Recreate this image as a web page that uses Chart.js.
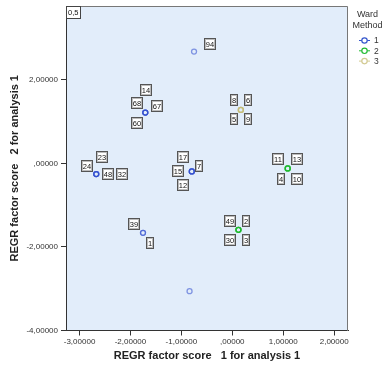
<!DOCTYPE html>
<html>
<head>
<meta charset="utf-8">
<script src="https://cdn.jsdelivr.net/npm/chart.js@4"></script>
<style>
html, body { margin: 0; padding: 0; background: #fff; }
</style>
</head>
<body>
<canvas id="wardChart" width="385" height="367"></canvas>
<script>
// one entry per plotted location (cases that share a spot are listed together)
const wardCluster = [1, 1, 1, 1, 1, 1, 2, 2, 3];
const factor1 = [-0.752, -1.709, -2.672, -0.796, -1.754, -0.840, 1.087, 0.120, 0.167];
const factor2 = [2.678, 1.217, -0.255, -0.190, -1.662, -3.058, -0.118, -1.590, 1.282];
const caseLabels = [
    ['94'],
    ['14', '68', '67', '60'],
    ['23', '24', '48', '32'],
    ['17', '15', '7', '12'],
    ['39', '1'],
    [],
    ['11', '13', '4', '10'],
    ['49', '2', '30', '3'],
    ['8', '6', '5', '9']
];
const clusterNames = ['1', '2', '3'];
const xTickValues = [-3, -2, -1, 0, 1, 2];
const yTickValues = [-4, -2, 0, 2];
const cornerNote = '0,5';
const xTitle = 'REGR factor score   1 for analysis 1';
const yTitle = 'REGR factor score   2 for analysis 1';

// label box placement around each location (pixel offsets of box centres)
const labelOffsets = [
    [[15, -8]],
    [[0, -23], [-9, -10], [11, -7], [-9, 9.5]],
    [[5, -18], [-10, -9], [11.6, -0.5], [25, -0.5]],
    [[-9, -15], [-14, -1], [7, -5.5], [-9, 13]],
    [[-9.4, -9.7], [6.6, 9.8]],
    [],
    [[-10, -9.7], [9, -9.7], [-7.4, 9.7], [9, 9.7]],
    [[-9, -9.7], [7, -9.7], [-9, 9.7], [7, 9.7]],
    [[-7, -10.5], [7, -10.5], [-7, 9], [7, 9]]
];

const pointColors = ['rgba(45, 75, 205, 0.55)', 'rgba(25, 185, 40, 0.6)', 'rgba(195, 185, 110, 0.5)'];
const legendColors = ['#3556cc', '#22bb33', '#d2ca92'];
const FONT = "'Liberation Sans', Arial, sans-serif";

function spssFmt(v) {
    let s = Math.abs(v).toFixed(5).replace('.', ',');
    if (Math.abs(v) < 1) s = s.replace(/^0/, '');
    return (v < 0 ? '-' : '') + s;
}

// each case is one point, so shared spots get drawn once per case
const datasets = clusterNames.map(function(name, c) {
    const pts = [];
    wardCluster.forEach(function(w, i) {
        if (w !== c + 1) return;
        const n = Math.max(1, caseLabels[i].length);
        for (let k = 0; k < n; k++) pts.push({ x: factor1[i], y: factor2[i] });
    });
    return {
        label: name,
        data: pts,
        borderColor: pointColors[c],
        backgroundColor: 'rgba(0,0,0,0)',
        pointRadius: 2.5,
        pointBorderWidth: 1.3
    };
});

const decorPlugin = {
    id: 'decor',
    beforeDraw(chart) {
        const a = chart.chartArea;
        const ctx = chart.ctx;
        ctx.save();
        ctx.fillStyle = '#e2edfa';
        ctx.fillRect(a.left, a.top, a.right - a.left, a.bottom - a.top);
        ctx.restore();
    },
    afterDraw(chart) {
        const a = chart.chartArea;
        const ctx = chart.ctx;
        const xs = chart.scales.x, ys = chart.scales.y;
        ctx.save();

        // frame top and right
        ctx.strokeStyle = '#777';
        ctx.lineWidth = 1;
        ctx.beginPath();
        ctx.moveTo(Math.round(a.left) + 0.5, Math.round(a.top) + 0.5);
        ctx.lineTo(Math.round(a.right) - 0.5, Math.round(a.top) + 0.5);
        ctx.lineTo(Math.round(a.right) - 0.5, Math.round(a.bottom));
        ctx.stroke();

        function box(text, cx, cy) {
            ctx.font = '7.5px ' + FONT;
            const w = Math.round(ctx.measureText(text).width + 3);
            const h = 11;
            const l = Math.round(cx - w / 2), t = Math.round(cy - h / 2);
            ctx.fillStyle = '#fff';
            ctx.fillRect(l, t, w, h);
            ctx.strokeStyle = '#555';
            ctx.strokeRect(l + 0.5, t + 0.5, w, h);
            ctx.strokeStyle = '#bbb';
            ctx.strokeRect(l + 1.5, t + 1.5, w - 2, h - 2);
            ctx.fillStyle = '#111';
            ctx.textAlign = 'center';
            ctx.textBaseline = 'middle';
            ctx.fillText(text, l + w / 2 + 0.5, t + h / 2 + 1);
        }

        caseLabels.forEach(function(labels, i) {
            const px = xs.getPixelForValue(factor1[i]);
            const py = ys.getPixelForValue(factor2[i]);
            labels.forEach(function(lab, j) {
                const off = labelOffsets[i][j];
                box(lab, px + off[0], py + off[1]);
            });
        });

        // corner note
        ctx.font = '7.5px ' + FONT;
        const nw = Math.round(ctx.measureText(cornerNote).width + 4);
        ctx.fillStyle = '#fff';
        ctx.fillRect(a.left, a.top, nw, 12);
        ctx.strokeStyle = '#444';
        ctx.strokeRect(Math.round(a.left) + 0.5, Math.round(a.top) + 0.5, nw, 12);
        ctx.fillStyle = '#111';
        ctx.textAlign = 'left';
        ctx.textBaseline = 'middle';
        ctx.fillText(cornerNote, a.left + 2, a.top + 7);

        // axis titles
        ctx.fillStyle = '#222';
        ctx.font = 'bold 11px ' + FONT;
        ctx.textAlign = 'center';
        ctx.textBaseline = 'middle';
        ctx.fillText(xTitle, (a.left + a.right) / 2, 356);
        ctx.save();
        ctx.translate(15, (a.top + a.bottom) / 2);
        ctx.rotate(-Math.PI / 2);
        ctx.fillText(yTitle, 0, 0);
        ctx.restore();

        // legend
        ctx.fillStyle = '#333';
        ctx.font = '9px ' + FONT;
        ctx.textAlign = 'center';
        ctx.fillText('Ward', 367.5, 15);
        ctx.fillText('Method', 367.5, 25.5);
        clusterNames.forEach(function(name, c) {
            const y = 40.5 + c * 10.3;
            ctx.strokeStyle = legendColors[c];
            ctx.lineWidth = 1;
            ctx.beginPath();
            ctx.moveTo(359, y);
            ctx.lineTo(370, y);
            ctx.stroke();
            ctx.lineWidth = 1.2;
            ctx.beginPath();
            ctx.arc(364.5, y, 2.7, 0, Math.PI * 2);
            ctx.fillStyle = '#fff';
            ctx.fill();
            ctx.stroke();
            ctx.fillStyle = '#333';
            ctx.font = '8.5px ' + FONT;
            ctx.textAlign = 'left';
            ctx.fillText(name, 374, y + 0.5);
        });
        ctx.restore();
    }
};

new Chart(document.getElementById('wardChart'), {
    type: 'scatter',
    data: { datasets: datasets },
    options: {
        responsive: false,
        devicePixelRatio: 1,
        animation: false,
        layout: { padding: { left: 0, top: 6, right: 37, bottom: 0 } },
        plugins: {
            legend: { display: false },
            tooltip: { enabled: false }
        },
        scales: {
            x: {
                type: 'linear',
                min: -3.266,
                max: 2.271,
                afterBuildTicks: function(scale) {
                    scale.ticks = xTickValues.map(v => ({ value: v }));
                },
                afterFit: function(scale) {
                    scale.height = 36.5;
                    scale.paddingLeft = 0;
                    scale.paddingRight = 0;
                },
                ticks: {
                    callback: v => spssFmt(v),
                    color: '#333',
                    font: { size: 8, family: FONT },
                    padding: 1,
                    maxRotation: 0,
                    autoSkip: false
                },
                grid: { drawOnChartArea: false, drawTicks: true, tickLength: 5, color: '#333' },
                border: { display: true, color: '#333' }
            },
            y: {
                type: 'linear',
                min: -4,
                max: 3.77,
                afterBuildTicks: function(scale) {
                    scale.ticks = yTickValues.map(v => ({ value: v }));
                },
                afterFit: function(scale) {
                    scale.width = 66;
                    scale.paddingTop = 0;
                    scale.paddingBottom = 0;
                },
                ticks: {
                    callback: v => spssFmt(v),
                    color: '#333',
                    font: { size: 8, family: FONT },
                    padding: 3,
                    autoSkip: false
                },
                grid: { drawOnChartArea: false, drawTicks: true, tickLength: 5, color: '#333' },
                border: { display: true, color: '#333' }
            }
        }
    },
    plugins: [decorPlugin]
});
</script>
</body>
</html>
